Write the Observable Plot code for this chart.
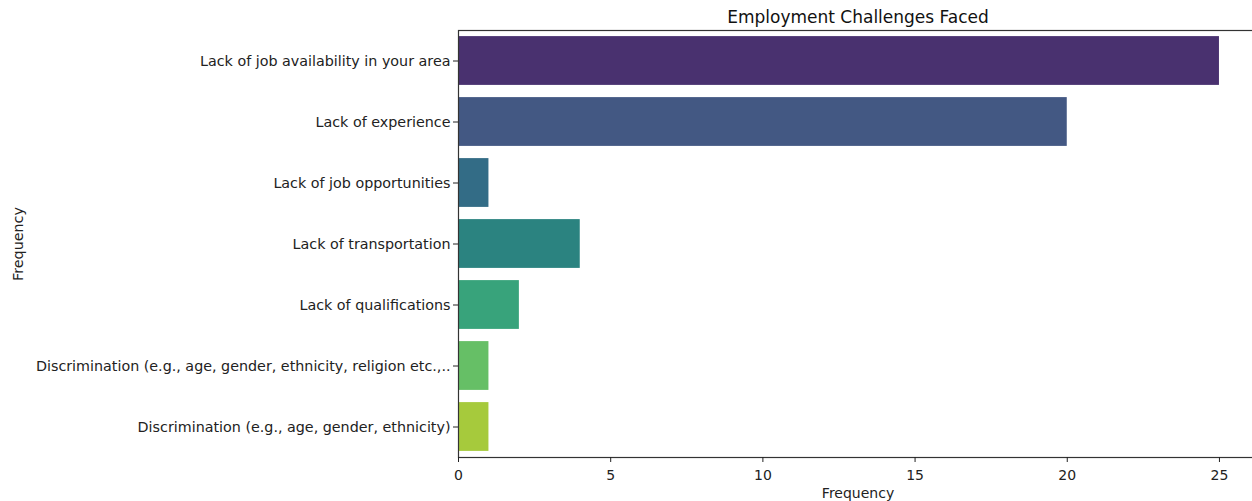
<!DOCTYPE html>
<html>
<head>
<meta charset="utf-8">
<script src="https://cdn.jsdelivr.net/npm/d3@7"></script>
<script src="https://cdn.jsdelivr.net/npm/@observablehq/plot@0.6"></script>
<style>
html, body { margin: 0; padding: 0; background: #fff; overflow: hidden; width: 1252px; height: 501px; }
#chart { position: absolute; left: 0; top: 0; width: 1262px; }
#chart svg { max-width: none !important; }
</style>
</head>
<body>
<div id="chart"></div>
<script>
const categories = [
  "Lack of job availability in your area",
  "Lack of experience",
  "Lack of job opportunities",
  "Lack of transportation",
  "Lack of qualifications",
  "Discrimination (e.g., age, gender, ethnicity, religion etc.,..",
  "Discrimination (e.g., age, gender, ethnicity)"
];
const values = [25, 20, 1, 4, 2, 1, 1];
const colors = ["#49316f", "#435883", "#336c86", "#2b8380", "#38a37b", "#66bf66", "#a6ca3c"];
const xTicks = [0, 5, 10, 15, 20, 25];
const title = "Employment Challenges Faced";
const xLabel = "Frequency";
const yLabel = "Frequency";

const data = categories.map((c, i) => ({category: c, value: values[i], color: colors[i]}));

const font = "'DejaVu Sans', sans-serif";
const chart = Plot.plot({
  width: 1262,
  height: 501,
  marginLeft: 458,
  marginRight: 5,
  marginTop: 30,
  marginBottom: 44,
  style: {fontFamily: font, fontSize: "14px", color: "#222", background: "#fff", maxWidth: "none"},
  x: {domain: [0, 26.25]},
  y: {domain: categories, paddingInner: 0.2, paddingOuter: 0.1, round: false},
  marks: [
    Plot.barX(data, {x: "value", y: "category", fill: "color"}),
    Plot.frame({stroke: "#333", strokeWidth: 1.2}),
    Plot.axisX({ticks: xTicks, tickSize: 5, tickPadding: 8, fontSize: 14, label: xLabel, labelAnchor: "center", labelArrow: "none", labelOffset: 40}),
    Plot.axisY({tickSize: 5, tickPadding: 3, fontSize: 14.3, label: yLabel, labelAnchor: "center", labelArrow: "none", labelOffset: 446}),
    Plot.text([title], {frameAnchor: "top", dy: -20, fontSize: 17, fill: "#111"})
  ]
});
document.getElementById("chart").appendChild(chart);
</script>
</body>
</html>
